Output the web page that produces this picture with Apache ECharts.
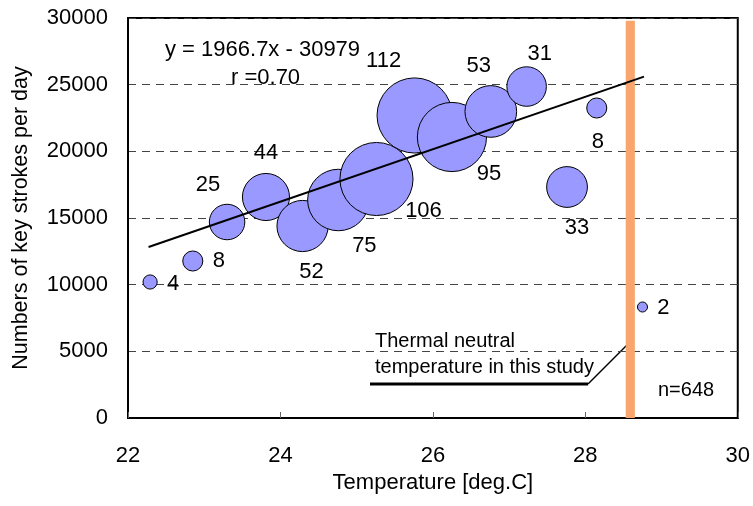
<!DOCTYPE html>
<html>
<head>
<meta charset="utf-8">
<script src="https://cdn.jsdelivr.net/npm/echarts@6/dist/echarts.min.js"></script>
<style>
  html, body { margin: 0; padding: 0; background: #fff; }
  #chart { width: 753px; height: 506px; }
</style>
</head>
<body>
<div id="chart"></div>
<script>
// 気温とキーストローク数（バブル = サンプル数）
const temps   = [22.29, 22.85, 23.30, 23.81, 24.29, 24.76, 25.26, 25.76, 26.25, 26.76, 27.23, 27.76, 28.15, 28.75];
const strokes = [10200, 11775, 14700, 16575, 14400, 16350, 17925, 22690, 21075, 22990, 24860, 17325, 23250, 8325];
const counts  = [4, 8, 25, 44, 52, 75, 106, 112, 95, 53, 31, 33, 8, 2];

// 回帰直線の両端
const trendX = [22.27, 28.77];
const trendY = [12820, 25600];

// 中立温度の帯
const neutralBand = [28.53, 28.65];

const xTicks = [22, 24, 26, 28, 30];
const yTicks = [0, 5000, 10000, 15000, 20000, 25000, 30000];

// ラベルのずらし量 (px)
const labelOffsets = [
  [23, 2], [26, 0], [-19, -37], [0, -44], [9, 46], [26, 46], [47, 32],
  [-31, -55], [37, 37], [-12, -46], [13, -33], [10, 41], [1, 34], [21, 1]
];

const FONT = 'Liberation Sans';

let bubbles = temps.map((t, i) => ({
  value: [t, strokes[i], counts[i]],
  label: { offset: labelOffsets[i] }
}));

let chart = echarts.init(document.getElementById('chart'));
chart.setOption({
  animation: false,
  textStyle: { fontFamily: FONT },
  grid: {
    left: 128, right: 15, top: 18, bottom: 88,
    show: true, borderColor: '#000', borderWidth: 2
  },
  xAxis: {
    type: 'value',
    min: xTicks[0], max: xTicks[xTicks.length - 1], interval: 2,
    name: 'Temperature [deg.C]',
    nameLocation: 'middle', nameGap: 54,
    nameTextStyle: { fontSize: 22, color: '#000', fontFamily: FONT },
    axisLine: { lineStyle: { color: '#000', width: 2 } },
    axisTick: { inside: true, length: 6, lineStyle: { color: '#666' } },
    axisLabel: { margin: 27, fontSize: 22, color: '#000', fontFamily: FONT },
    splitLine: { show: false }
  },
  yAxis: {
    type: 'value',
    min: yTicks[0], max: yTicks[yTicks.length - 1], interval: 5000,
    name: 'Numbers of key strokes per day',
    nameLocation: 'middle', nameGap: 96,
    nameTextStyle: { fontSize: 21.5, color: '#000', fontFamily: FONT },
    axisLine: { lineStyle: { color: '#000', width: 2 } },
    axisTick: { show: false },
    axisLabel: {
      margin: 20, fontSize: 22, color: '#000', fontFamily: FONT,
      formatter: function (v) { return String(v); }
    },
    splitLine: { lineStyle: { color: '#444', type: [8, 6], width: 1 } }
  },
  series: [
    {
      type: 'scatter',
      data: bubbles,
      symbolSize: function (d) { return Math.sqrt(d[2]) * 7.1; },
      itemStyle: { color: '#9999FF', borderColor: '#000', borderWidth: 1, opacity: 1 },
      label: {
        show: true,
        position: 'inside',
        formatter: function (p) { return p.value[2]; },
        fontSize: 22, color: '#000', fontFamily: FONT
      },
      emphasis: { disabled: true },
      markArea: {
        silent: true,
        itemStyle: { color: '#F9A66E', opacity: 1 },
        data: [[{ xAxis: neutralBand[0], yAxis: 29800 }, { xAxis: neutralBand[1], yAxis: 0 }]]
      },
      z: 2
    },
    {
      type: 'line',
      data: trendX.map((x, i) => [x, trendY[i]]),
      symbol: 'none',
      lineStyle: { color: '#000', width: 2 },
      z: 5
    }
  ],
  graphic: [
    { type: 'text', left: 165, top: 39, style: { text: 'y = 1966.7x - 30979', font: '22px "Liberation Sans"', fill: '#000' } },
    { type: 'text', left: 231, top: 67, style: { text: 'r =0.70', font: '22px "Liberation Sans"', fill: '#000' } },
    { type: 'text', left: 375, top: 331, style: { text: 'Thermal neutral', font: '20px "Liberation Sans"', fill: '#000' } },
    { type: 'text', left: 375, top: 357, style: { text: 'temperature in this study', font: '20px "Liberation Sans"', fill: '#000' } },
    { type: 'text', left: 658, top: 380, style: { text: 'n=648', font: '20px "Liberation Sans"', fill: '#000' } },
    { type: 'polyline', shape: { points: [[370, 384], [588, 384]] }, style: { stroke: '#000', lineWidth: 3 } },
    { type: 'polyline', shape: { points: [[588, 384], [628, 344]] }, style: { stroke: '#000', lineWidth: 1.5 } }
  ]
});
</script>
</body>
</html>
